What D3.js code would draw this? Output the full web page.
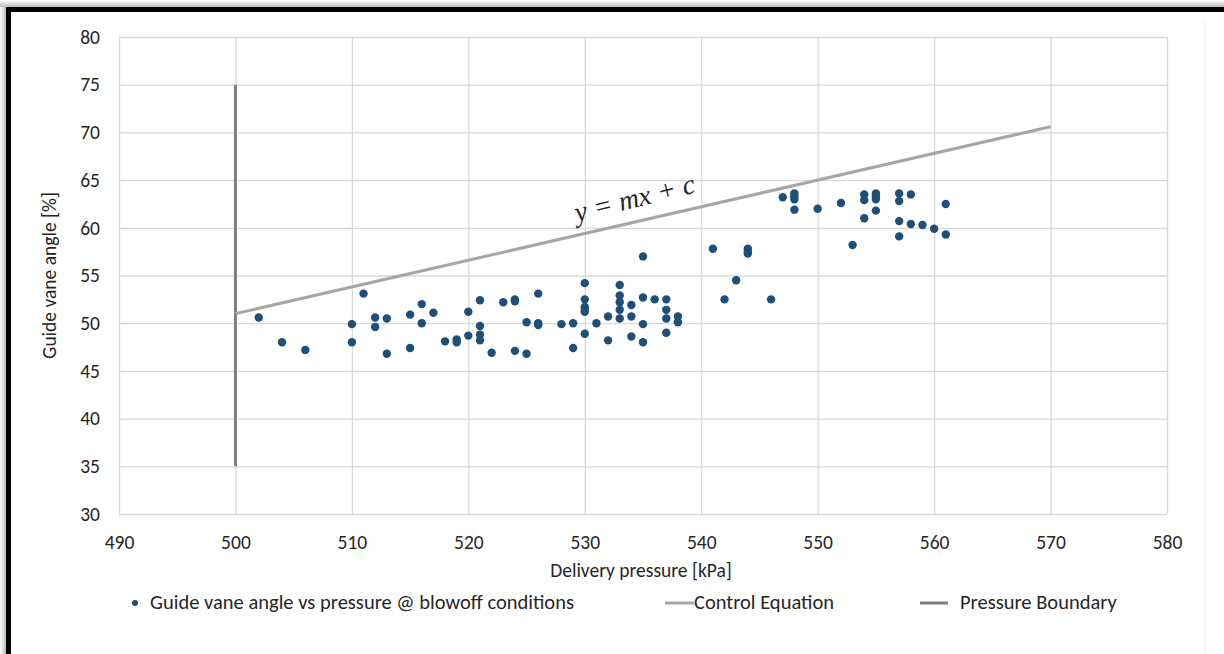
<!DOCTYPE html>
<html>
<head>
  <meta charset="utf-8">
  <title>Guide vane angle vs delivery pressure</title>
  <style>
    body { margin: 0; background: #fff; }
    text { font-family: "Carlito", "Lato", sans-serif; fill: #262626; }
  </style>
</head>
<body>
<script src="https://d3js.org/d3.v7.min.js"></script>
<svg id="chart" width="1224" height="654"></svg>

<script>
    // blowoff points (delivery pressure kPa, guide vane angle %)
    var pressure = [502,504,506,510,510,511,512,512,513,513,515,515,516,516,517,518,519,519,
                    520,520,521,521,521,521,522,523,524,524,524,525,525,526,526,526,528,529,529,
                    530,530,530,530,530,530,531,532,532,533,533,533,533,533,534,534,534,
                    535,535,535,535,536,537,537,537,537,538,538,
                    541,542,543,544,544,544,546,547,548,548,548,548,550,552,553,
                    554,554,554,555,555,555,555,557,557,557,557,558,558,559,560,561,561];
    var angle = [50.6,48.0,47.2,49.9,48.0,53.1,50.6,49.6,50.5,46.8,50.9,47.4,52.0,50.0,51.1,48.1,48.3,48.0,
                 51.2,48.7,52.4,49.7,48.8,48.2,46.9,52.2,52.5,52.3,47.1,50.1,46.8,53.1,50.0,49.8,49.9,50.0,47.4,
                 54.2,52.5,51.7,51.4,51.2,48.9,50.0,50.7,48.2,54.0,52.9,52.2,51.4,50.5,51.9,50.7,48.6,
                 57.0,52.7,49.9,48.0,52.5,52.5,51.4,50.5,49.0,50.7,50.1,
                 57.8,52.5,54.5,57.8,57.5,57.3,52.5,63.2,63.6,63.3,63.0,61.9,62.0,62.6,58.2,
                 63.5,62.9,61.0,63.6,63.3,63.0,61.8,63.6,62.8,60.7,59.1,63.5,60.4,60.3,59.9,62.5,59.3];

    var controlX = [500, 570];
    var controlY = [51.0, 70.6];
    var boundaryX = [500, 500];
    var boundaryY = [35, 75];

    var xTicks = [490,500,510,520,530,540,550,560,570,580];
    var yTicks = [30,35,40,45,50,55,60,65,70,75,80];

    drawChart();

    function drawChart() {
        var svg = d3.select("#chart");
        var pl = 119, pr = 1167, pt = 37, pb = 514;

        var x = d3.scaleLinear().domain([490, 580]).range([pl, pr]);
        var y = d3.scaleLinear().domain([30, 80]).range([pb, pt]);

        // frame with shadow
        var defs = svg.append("defs");
        var gl = defs.append("linearGradient").attr("id", "shL");
        gl.append("stop").attr("offset", "0").attr("stop-color", "#fff");
        gl.append("stop").attr("offset", "1").attr("stop-color", "#bbb");
        var gt = defs.append("linearGradient").attr("id", "shT").attr("x1", 0).attr("x2", 0).attr("y1", 0).attr("y2", 1);
        gt.append("stop").attr("offset", "0").attr("stop-color", "#fff");
        gt.append("stop").attr("offset", "1").attr("stop-color", "#bbb");
        svg.append("rect").attr("x", 0).attr("y", 0).attr("width", 6).attr("height", 654).attr("fill", "url(#shL)");
        svg.append("rect").attr("x", 0).attr("y", 0).attr("width", 1224).attr("height", 7).attr("fill", "url(#shT)");
        svg.append("rect").attr("x", 6).attr("y", 7).attr("width", 5).attr("height", 647).attr("fill", "#000");
        svg.append("rect").attr("x", 6).attr("y", 7).attr("width", 1218).attr("height", 5).attr("fill", "#000");
        svg.append("line").attr("x1", 1205).attr("x2", 1205).attr("y1", 20).attr("y2", 654)
            .attr("stroke", "#f0f0f0").attr("stroke-width", 1);

        // grid + axes
        var gx = svg.append("g").attr("transform", "translate(0," + pb + ")")
            .call(d3.axisBottom(x).tickValues(xTicks).tickSize(-(pb - pt)).tickPadding(21).tickFormat(d3.format("d")));
        var gy = svg.append("g").attr("transform", "translate(" + pl + ",0)")
            .call(d3.axisLeft(y).tickValues(yTicks).tickSize(-(pr - pl)).tickPadding(19).tickFormat(d3.format("d")));
        [gx, gy].forEach(function(g) {
            g.select(".domain").remove();
            g.selectAll(".tick line").attr("stroke", "#d9d9d9").attr("stroke-width", 1.3);
            g.selectAll(".tick text").attr("font-size", 19.5).attr("fill", "#262626")
                .style("font-family", "Carlito, Lato, sans-serif");
        });

        // axis titles
        svg.append("text").attr("x", (pl + pr) / 2 - 2).attr("y", 577).attr("text-anchor", "middle")
            .attr("font-size", 19.5).text("Delivery pressure [kPa]");
        svg.append("text").attr("transform", "translate(56," + ((pt + pb) / 2) + ") rotate(-90)")
            .attr("text-anchor", "middle").attr("font-size", 19.5).text("Guide vane angle [%]");

        // pressure boundary
        svg.append("line")
            .attr("x1", x(boundaryX[0])).attr("x2", x(boundaryX[1]))
            .attr("y1", y(boundaryY[0])).attr("y2", y(boundaryY[1]))
            .attr("stroke", "#7f7f7f").attr("stroke-width", 3);

        // control equation
        svg.append("line")
            .attr("x1", x(controlX[0])).attr("x2", x(controlX[1]))
            .attr("y1", y(controlY[0])).attr("y2", y(controlY[1]))
            .attr("stroke", "#a6a6a6").attr("stroke-width", 3);

        svg.append("text")
            .attr("transform", "translate(577,222) rotate(-14)")
            .style("font-family", "\"Liberation Serif\", \"DejaVu Serif\", serif")
            .attr("font-style", "italic").attr("font-size", 28).attr("fill", "#111")
            .text("y = mx + c");

        // points
        svg.append("g").selectAll("circle")
            .data(pressure.map(function(p, i) { return [p, angle[i]]; }))
            .enter().append("circle")
            .attr("cx", function(d) { return x(d[0]); })
            .attr("cy", function(d) { return y(d[1]); })
            .attr("r", 4.2)
            .attr("fill", "#1f4e79");

        // legend
        var lg = svg.append("g");
        lg.append("circle").attr("cx", 135).attr("cy", 603).attr("r", 3).attr("fill", "#1f4e79");
        lg.append("text").attr("x", 150).attr("y", 609).attr("font-size", 20.5)
            .text("Guide vane angle vs pressure @ blowoff conditions");
        lg.append("line").attr("x1", 665).attr("x2", 694).attr("y1", 603).attr("y2", 603)
            .attr("stroke", "#a6a6a6").attr("stroke-width", 3);
        lg.append("text").attr("x", 694).attr("y", 609).attr("font-size", 20.5).text("Control Equation");
        lg.append("line").attr("x1", 920).attr("x2", 948).attr("y1", 603).attr("y2", 603)
            .attr("stroke", "#7f7f7f").attr("stroke-width", 3);
        lg.append("text").attr("x", 960).attr("y", 609).attr("font-size", 20.5).text("Pressure Boundary");
    }
</script>
</body>
</html>
